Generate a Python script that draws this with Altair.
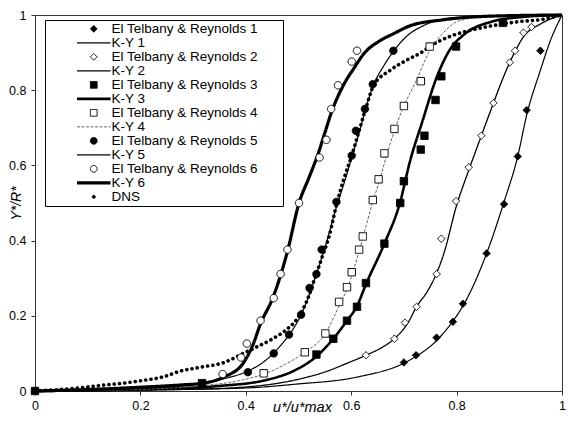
import altair as alt
import pandas as pd

NAMES = ["El Telbany & Reynolds 1", "K-Y 1", "El Telbany & Reynolds 2", "K-Y 2",
         "El Telbany & Reynolds 3", "K-Y 3", "El Telbany & Reynolds 4", "K-Y 4",
         "El Telbany & Reynolds 5", "K-Y 5", "El Telbany & Reynolds 6", "K-Y 6", "DNS"]

# Experimental points (El Telbany & Reynolds)
et1_x = [0.700, 0.723, 0.762, 0.793, 0.812, 0.857, 0.890, 0.916, 0.933, 0.959]
et1_y = [0.076, 0.095, 0.142, 0.184, 0.232, 0.366, 0.497, 0.624, 0.747, 0.905]
et2_x = [0.628, 0.682, 0.702, 0.724, 0.762, 0.771, 0.799, 0.823, 0.847, 0.870, 0.901, 0.911, 0.927, 0.942]
et2_y = [0.095, 0.139, 0.182, 0.224, 0.311, 0.405, 0.505, 0.595, 0.679, 0.766, 0.874, 0.905, 0.953, 0.968]
et3_x = [0.0, 0.317, 0.534, 0.566, 0.592, 0.611, 0.628, 0.663, 0.693, 0.700, 0.732, 0.739, 0.760, 0.771, 0.799, 0.888]
et3_y = [0.0, 0.021, 0.097, 0.139, 0.187, 0.224, 0.287, 0.392, 0.500, 0.558, 0.642, 0.679, 0.774, 0.837, 0.916, 0.979]
et4_x = [0.434, 0.512, 0.551, 0.577, 0.592, 0.601, 0.615, 0.622, 0.641, 0.652, 0.663, 0.682, 0.700, 0.732, 0.749]
et4_y = [0.047, 0.103, 0.153, 0.237, 0.276, 0.316, 0.376, 0.411, 0.508, 0.563, 0.632, 0.697, 0.758, 0.824, 0.916]
et5_x = [0.404, 0.453, 0.482, 0.505, 0.521, 0.534, 0.544, 0.572, 0.601, 0.609, 0.626, 0.641, 0.680]
et5_y = [0.050, 0.100, 0.150, 0.203, 0.274, 0.311, 0.376, 0.503, 0.626, 0.692, 0.750, 0.816, 0.905]
et6_x = [0.356, 0.391, 0.402, 0.428, 0.453, 0.466, 0.479, 0.501, 0.540, 0.553, 0.562, 0.575, 0.601, 0.611]
et6_y = [0.045, 0.089, 0.126, 0.187, 0.247, 0.311, 0.376, 0.500, 0.621, 0.668, 0.750, 0.813, 0.876, 0.905]

# Model curves (K-Y)
ky1_x = [0.0, 0.214, 0.400, 0.493, 0.611, 0.700, 0.723, 0.762, 0.791, 0.812, 0.857, 0.890, 0.916, 0.933, 0.959, 0.978, 1.0]
ky1_y = [0.0, 0.003, 0.008, 0.018, 0.037, 0.074, 0.092, 0.134, 0.182, 0.226, 0.366, 0.503, 0.624, 0.734, 0.853, 0.932, 1.0]
ky2_x = [0.0, 0.307, 0.419, 0.493, 0.549, 0.596, 0.628, 0.661, 0.682, 0.708, 0.724, 0.745, 0.762, 0.777, 0.799, 0.823, 0.847, 0.870, 0.888, 0.907, 0.927, 0.959, 1.0]
ky2_y = [0.0, 0.005, 0.013, 0.029, 0.050, 0.076, 0.095, 0.118, 0.139, 0.182, 0.224, 0.266, 0.313, 0.371, 0.489, 0.587, 0.679, 0.766, 0.832, 0.892, 0.942, 0.976, 1.0]
ky3_x = [0.0, 0.214, 0.345, 0.438, 0.493, 0.534, 0.566, 0.592, 0.611, 0.628, 0.663, 0.693, 0.711, 0.736, 0.760, 0.786, 0.816, 0.866, 0.927, 1.0]
ky3_y = [0.0, 0.005, 0.013, 0.029, 0.055, 0.092, 0.139, 0.187, 0.226, 0.284, 0.392, 0.503, 0.608, 0.721, 0.826, 0.905, 0.950, 0.982, 0.995, 1.0]
ky4_x = [0.0, 0.214, 0.307, 0.382, 0.434, 0.475, 0.512, 0.551, 0.577, 0.592, 0.605, 0.620, 0.641, 0.654, 0.667, 0.682, 0.700, 0.721, 0.749, 0.773, 0.804, 0.866, 1.0]
ky4_y = [0.0, 0.005, 0.013, 0.026, 0.045, 0.071, 0.103, 0.153, 0.226, 0.271, 0.324, 0.397, 0.503, 0.561, 0.626, 0.692, 0.758, 0.818, 0.905, 0.950, 0.984, 0.997, 1.0]
ky5_x = [0.0, 0.121, 0.214, 0.307, 0.363, 0.404, 0.438, 0.466, 0.488, 0.505, 0.521, 0.534, 0.549, 0.572, 0.587, 0.601, 0.615, 0.628, 0.642, 0.661, 0.680, 0.704, 0.736, 0.791, 0.866, 1.0]
ky5_y = [0.0, 0.003, 0.008, 0.018, 0.034, 0.053, 0.082, 0.121, 0.161, 0.203, 0.258, 0.311, 0.376, 0.489, 0.555, 0.621, 0.687, 0.753, 0.813, 0.863, 0.903, 0.942, 0.971, 0.992, 0.997, 1.0]
ky6_x = [0.0, 0.121, 0.214, 0.276, 0.320, 0.358, 0.395, 0.413, 0.428, 0.451, 0.479, 0.501, 0.520, 0.536, 0.549, 0.562, 0.587, 0.605, 0.624, 0.655, 0.680, 0.711, 0.773, 0.866, 1.0]
ky6_y = [0.0, 0.005, 0.011, 0.016, 0.021, 0.037, 0.074, 0.121, 0.179, 0.247, 0.371, 0.500, 0.568, 0.626, 0.682, 0.739, 0.818, 0.858, 0.897, 0.932, 0.950, 0.971, 0.987, 0.997, 1.0]

# DNS profile
dns_x = [0.0, 0.082, 0.132, 0.168, 0.209, 0.242, 0.276, 0.313, 0.359, 0.395, 0.419, 0.451, 0.475, 0.499, 0.518, 0.531, 0.544, 0.559, 0.572, 0.587, 0.601, 0.615, 0.628, 0.642, 0.674, 0.704, 0.736, 0.749, 0.791, 0.823, 0.866, 0.916, 0.965, 1.0]
dns_y = [0.0, 0.008, 0.016, 0.021, 0.029, 0.037, 0.053, 0.063, 0.076, 0.100, 0.116, 0.139, 0.161, 0.195, 0.247, 0.300, 0.353, 0.416, 0.495, 0.568, 0.626, 0.692, 0.753, 0.811, 0.853, 0.879, 0.903, 0.916, 0.945, 0.958, 0.971, 0.982, 0.989, 1.0]

pts = []
for name, xs, ys in [(NAMES[0], et1_x, et1_y), (NAMES[2], et2_x, et2_y), (NAMES[4], et3_x, et3_y),
                     (NAMES[6], et4_x, et4_y), (NAMES[8], et5_x, et5_y), (NAMES[10], et6_x, et6_y)]:
    for a, b in zip(xs, ys):
        pts.append({"series": name, "x": a, "y": b})
pts_df = pd.DataFrame(pts)

lines = []
for name, xs, ys in [(NAMES[1], ky1_x, ky1_y), (NAMES[3], ky2_x, ky2_y), (NAMES[5], ky3_x, ky3_y),
                     (NAMES[7], ky4_x, ky4_y), (NAMES[9], ky5_x, ky5_y), (NAMES[11], ky6_x, ky6_y)]:
    for i, (a, b) in enumerate(zip(xs, ys)):
        lines.append({"series": name, "x": a, "y": b, "i": i})
lines_df = pd.DataFrame(lines)

dns_df = pd.DataFrame({"series": "DNS", "x": dns_x, "y": dns_y, "i": list(range(len(dns_x)))})

LINE = "M-5,0H5"
DOT = "M-0.45,0A0.45,0.45 0 1,0 0.45,0A0.45,0.45 0 1,0 -0.45,0Z"
shape_range = ["diamond", LINE, "diamond", LINE, "square", LINE, "square", LINE, "circle", LINE, "circle", LINE, DOT]
fill_range = ["black", "transparent", "white", "transparent", "black", "transparent", "white", "transparent",
              "black", "transparent", "white", "transparent", "black"]
stroke_range = ["black", "black", "black", "black", "black", "black", "black", "#666666",
                "black", "black", "black", "black", "black"]
sw_range = [1, 1.2, 1, 1.3, 1, 2.6, 1, 1, 1, 1.2, 1, 3.2, 1]
dash_range = [[1, 0], [1, 0], [1, 0], [1, 0], [1, 0], [1, 0], [1, 0], [3, 1.5],
              [1, 0], [1, 0], [1, 0], [1, 0], [1, 0]]

leg = alt.Legend(orient="none", legendX=10, legendY=5, title=None,
                 labelExpr="datum.label + '\u00a0\u00a0\u00a0\u00a0\u00a0\u00a0\u200b'")
shape_sc = alt.Scale(domain=NAMES, range=shape_range)
fill_sc = alt.Scale(domain=NAMES, range=fill_range)
stroke_sc = alt.Scale(domain=NAMES, range=stroke_range)
sw_sc = alt.Scale(type="ordinal", domain=NAMES, range=sw_range)
dash_sc = alt.Scale(domain=NAMES, range=dash_range)

FONT = "Liberation Sans"
xsc = alt.Scale(domain=[0, 1], nice=False)
ysc = alt.Scale(domain=[0, 1], nice=False)
ticks = [0, 0.2, 0.4, 0.6, 0.8, 1]

xax = alt.Axis(values=ticks, format="~g", tickSize=4, labelPadding=4, labelFlush=False,
               grid=False, title="u*/u*max", titleFontStyle="italic", titleFontWeight="normal",
               titleFontSize=14.5, titleX=267, titleY=16, titleBaseline="middle")
yax = alt.Axis(values=ticks, format="~g", tickSize=4, labelPadding=5, labelFlush=False,
               grid=False, title="Y*/R*", titleFontStyle="italic", titleFontWeight="normal",
               titleFontSize=14, titleX=-19, titleY=188, titleBaseline="middle")

dns = alt.Chart(dns_df).mark_line(
    interpolate="monotone", color="black", strokeWidth=3.6, strokeDash=[0.1, 5.2], strokeCap="round"
).encode(x=alt.X("x:Q", scale=xsc, axis=xax), y=alt.Y("y:Q", scale=ysc, axis=yax), order="i:Q")

ky = alt.Chart(lines_df).mark_line(interpolate="monotone").encode(
    x=alt.X("x:Q", scale=xsc, axis=xax),
    y=alt.Y("y:Q", scale=ysc, axis=yax),
    order="i:Q",
    stroke=alt.Stroke("series:N", scale=stroke_sc, legend=leg),
    strokeWidth=alt.StrokeWidth("series:N", scale=sw_sc, legend=leg),
    strokeDash=alt.StrokeDash("series:N", scale=dash_sc, legend=leg),
)

et = alt.Chart(pts_df).mark_point(size=55, opacity=1).encode(
    x=alt.X("x:Q", scale=xsc, axis=xax),
    y=alt.Y("y:Q", scale=ysc, axis=yax),
    shape=alt.Shape("series:N", scale=shape_sc, legend=leg),
    fill=alt.Fill("series:N", scale=fill_sc, legend=leg),
    stroke=alt.Stroke("series:N", scale=stroke_sc, legend=leg),
    strokeWidth=alt.StrokeWidth("series:N", scale=sw_sc, legend=leg),
    strokeDash=alt.StrokeDash("series:N", scale=dash_sc, legend=leg),
)

chart = alt.layer(dns, ky, et).properties(
    width=527, height=376,
    autosize=alt.AutoSizeParams(type="none"),
    padding={"left": 27, "top": 7, "right": 4, "bottom": 24},
    background="white",
).configure_view(stroke="#333333", strokeWidth=1).configure_axis(
    labelFont=FONT, labelFontSize=12.5, labelColor="black", titleFont=FONT, titleColor="black",
    domainColor="#333333", tickColor="#333333",
).configure_legend(
    labelFont=FONT, labelFontSize=13.5, labelColor="black", symbolSize=45,
    strokeColor="black", fillColor="white", padding=2, rowPadding=-1.5, clipHeight=13.7,
    symbolOffset=40, labelOffset=11, labelLimit=400,
)

chart.save("out.html", embed_options={"renderer": "svg", "actions": False})
